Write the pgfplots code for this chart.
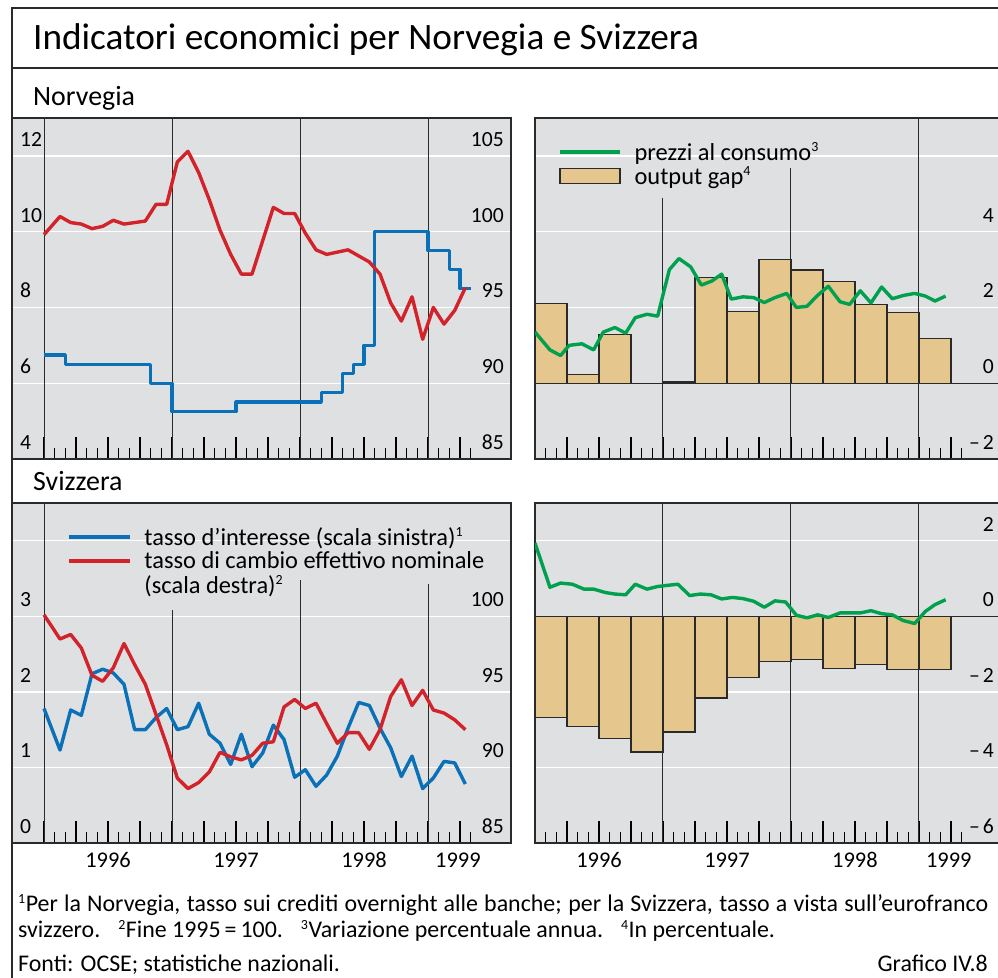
\documentclass[border=0pt]{standalone}
\usepackage{fontspec}
\setmainfont{Carlito}
\usepackage{pgfplots}
\pgfplotsset{compat=1.18}
\definecolor{bgc}{HTML}{DFE0E2}
\definecolor{cred}{HTML}{D2232A}
\definecolor{cblue}{HTML}{0A71B9}
\definecolor{cgreen}{HTML}{00A04E}
\definecolor{ctan}{HTML}{E5C78E}
\definecolor{cframe}{HTML}{2A2A2A}
\newcommand{\fs}[1]{\fontsize{#1}{#1}\selectfont}
\newcommand{\sps}[1]{\textsuperscript{\fontsize{14}{14}\selectfont #1}}
\newcommand{\yl}[3]{\draw[cframe, line width=1bp] (axis cs:#1,#2) -- (axis cs:#1,#3);}
\pgfplotsset{
  base/.style={scale only axis,
    /pgf/number format/assume math mode=true,
    tick label style={font=\fs{21.7}},
    ytick style={draw=none},
  },
  panel/.style={base,
    axis background/.style={fill=bgc},
    axis line style={line width=1.3bp, draw=cframe},
    tick align=inside, xtick pos=left, ytick pos=left,
    xtick={0,3,...,39},
    minor xtick={1,2,4,5,7,8,10,11,13,14,16,17,19,20,22,23,25,26,28,29,31,32,34,35,37,38,40},
    major tick length=22bp, minor tick length=11bp,
    xtick style={line width=1.1bp, black},
    xticklabels={},
    ymajorgrids, grid style={white, line width=1.3bp},
    extra y tick style={grid=none},
  },
  twin/.style={base, axis x line=none, axis y line*=right, y axis line style={draw=none}},
  years/.style={extra x ticks={6,18,30,38.8}, extra x tick labels={1996,1997,1998,1999},
    extra x tick style={major tick length=0pt, xticklabel style={anchor=base, inner sep=0pt, yshift=-25bp, font=\fs{22.5}}}},
  dline/.style={line width=3.4bp, line join=round},
  lblleft/.style={yticklabel style={anchor=base west, inner sep=0pt, xshift=8bp, yshift=9.5bp}},
  lblright/.style={yticklabel style={anchor=base east, inner sep=0pt, xshift=-#1, yshift=9.5bp}},
  leg/.style={legend style={draw=none, fill=none, inner sep=0pt, font=\fs{24.5}, row sep=5bp, column sep=13bp, nodes={inner sep=0pt}}, legend cell align=left},
}
\begin{document}
\begin{tikzpicture}
\draw[cframe, line width=1.2bp] (1005bp,970bp) -- (12bp,970bp) -- (12bp,-5bp);
\draw[cframe, line width=1.2bp] (12bp,910bp) -- (1005bp,910bp);
\node[anchor=base west, inner sep=0] at (33bp,928bp) {\fs{37.4}Indicatori economici per Norvegia e Svizzera};
\node[anchor=base west, inner sep=0] at (33bp,872bp) {\fs{28}Norvegia};
\node[anchor=base west, inner sep=0] at (33bp,487bp) {\fs{28}Svizzera};

% ---------- Norvegia left
\begin{axis}[panel, lblleft, at={(12bp,519bp)}, anchor=south west, width=499bp, height=341bp,
  xmin=-3, xmax=43.78, ymin=4, ymax=13,
  ytick={6,8,10,12}, yticklabels={6,8,10,12}, extra y ticks={4}, extra y tick labels={4}]
\yl{0}{4}{13}\yl{12}{4}{13}\yl{24}{4}{13}\yl{36}{4}{13}
\addplot[cblue, dline, const plot] coordinates {
(0,6.75) (2,6.5) (10,6.0) (12,5.25) (18,5.5) (26,5.75) (28,6.25) (29,6.5) (30,7.0) (31,10.0) (36,9.5) (38,9.0) (39,8.5) (40,8.5)};
\end{axis}
\begin{axis}[twin, lblright=7bp, at={(12bp,519bp)}, anchor=south west, width=499bp, height=341bp,
  xmin=-3, xmax=43.78, ymin=85, ymax=107.5,
  ytick={85,90,95,100,105}, yticklabels={85,90,95,100,105}]
\addplot[cred, dline] coordinates {
(0,99.8) (1.5,101.0) (2.5,100.6) (3.5,100.5) (4.5,100.2) (5.5,100.35) (6.5,100.75) (7.5,100.5) (8.5,100.6) (9.5,100.7)
(10.5,101.8) (11.5,101.8) (12.5,104.6) (13.5,105.3) (14.5,103.9) (15.5,102.1) (16.5,100.1) (17.5,98.5) (18.5,97.2) (19.5,97.2)
(20.5,99.4) (21.5,101.6) (22.5,101.2) (23.5,101.2) (24.5,99.9) (25.5,98.8) (26.5,98.5) (27.5,98.65) (28.5,98.8) (29.5,98.4)
(30.5,98.0) (31.5,97.2) (32.5,95.3) (33.5,94.1) (34.5,95.7) (35.5,92.9) (36.5,95.0) (37.5,93.9) (38.5,94.8) (39.5,96.3)};
\end{axis}

% ---------- Norvegia right
\begin{axis}[panel, lblright=6bp, ytick pos=right, yticklabel pos=right, leg,
  at={(535bp,519bp)}, anchor=south west, width=465bp, height=341bp,
  xmin=0, xmax=43.6, ymin=-2, ymax=7,
  ytick={2,4,6}, yticklabels={2,4,{}}, extra y ticks={-2,0}, extra y tick labels={–\hspace{3bp}2,0},
  legend style={at={(axis description cs:0.0495,0.93)}, anchor=north west}]
\addlegendimage{legend image code/.code={\draw[cgreen, line width=3.4bp] (0bp,0bp) -- (60bp,0bp);}}
\addlegendentry{prezzi al consumo\sps{3}}
\addlegendimage{legend image code/.code={\draw[fill=ctan, draw=cframe, line width=1.2bp] (0bp,-7.5bp) rectangle (60bp,7.5bp);}}
\addlegendentry{output gap\sps{4}}
\yl{12}{-2}{4.89}\yl{24}{-2}{5.68}\yl{36}{-2}{7}
\addplot[forget plot, ybar, bar width=3, bar shift=0pt, fill=ctan, draw=cframe, line width=1.2bp] coordinates {
(1.5,2.10) (4.5,0.23) (7.5,1.28) (13.5,0.03) (16.5,2.79) (19.5,1.90) (22.5,3.27) (25.5,2.99) (28.5,2.68) (31.5,2.08) (34.5,1.87) (37.5,1.19)};
\draw[cframe, line width=1.3bp] (axis cs:0,0) -- (axis cs:44,0);
\addplot[forget plot, cgreen, dline] coordinates {
(0,1.35) (1.4,0.88) (2.4,0.73) (3.2,1.0) (4.4,1.04) (5.5,0.88) (6.4,1.35) (7.5,1.47) (8.5,1.32) (9.4,1.73) (10.5,1.82) (11.5,1.77)
(12.6,3.0) (13.5,3.29) (14.6,3.07) (15.6,2.59) (16.6,2.70) (17.5,2.88) (18.4,2.22) (19.5,2.28) (20.5,2.26) (21.5,2.13) (22.5,2.26) (23.6,2.37)
(24.5,2.0) (25.5,2.03) (26.5,2.32) (27.5,2.56) (28.6,2.15) (29.5,2.08) (30.5,2.44) (31.5,2.12) (32.5,2.54) (33.5,2.23) (34.6,2.32) (35.6,2.37)
(36.6,2.30) (37.5,2.17) (38.5,2.30)};
\end{axis}

% ---------- Svizzera left
\begin{axis}[panel, years, lblleft, at={(12bp,135bp)}, anchor=south west, width=499bp, height=340bp,
  xmin=-3, xmax=43.78, ymin=0, ymax=4.5,
  ytick={1,2,3,4}, yticklabels={1,2,3,{}}, extra y ticks={0}, extra y tick labels={0}]
\yl{0}{0}{4.5}\yl{12}{0}{3.085}\yl{24}{0}{3.48}\yl{36}{0}{3.43}
\addplot[cblue, dline] coordinates {
(0,1.78) (1.5,1.23) (2.5,1.76) (3.5,1.69) (4.5,2.24) (5.5,2.30) (6.5,2.25) (7.5,2.10) (8.5,1.50) (9.5,1.50)
(10.5,1.66) (11.5,1.78) (12.5,1.50) (13.5,1.54) (14.5,1.85) (15.5,1.44) (16.5,1.32) (17.5,1.04) (18.5,1.44) (19.5,1.01)
(20.5,1.19) (21.5,1.56) (22.5,1.37) (23.5,0.87) (24.5,0.97) (25.5,0.75) (26.5,0.90) (27.5,1.15) (28.5,1.52) (29.5,1.86)
(30.5,1.82) (31.5,1.52) (32.5,1.26) (33.5,0.88) (34.5,1.15) (35.5,0.72) (36.5,0.86) (37.5,1.08) (38.5,1.06) (39.5,0.78)};
\end{axis}
\begin{axis}[twin, lblright=7bp, leg, at={(12bp,135bp)}, anchor=south west, width=499bp, height=340bp,
  xmin=-3, xmax=43.78, ymin=85, ymax=107.5,
  ytick={85,90,95,100}, yticklabels={85,90,95,100},
  legend style={at={(axis description cs:0.110,0.929)}, anchor=north west}]
\addlegendimage{legend image code/.code={\draw[cblue, line width=3.4bp] (0bp,0bp) -- (61bp,0bp);}}
\addlegendentry{tasso d’interesse (scala sinistra)\sps{1}}
\addlegendimage{legend image code/.code={\draw[cred, line width=3.4bp] (0bp,0bp) -- (61bp,0bp);}}
\addlegendentry{tasso di cambio effettivo nominale}
\addlegendimage{empty legend}
\addlegendentry{(scala destra)\sps{2}}
\addplot[forget plot, cred, dline] coordinates {
(0,100.1) (1.5,98.5) (2.5,98.8) (3.5,97.9) (4.5,96.1) (5.5,95.7) (6.5,96.6) (7.5,98.2) (8.5,96.8) (9.5,95.5)
(10.5,93.5) (11.5,91.5) (12.5,89.3) (13.5,88.6) (14.5,89.0) (15.5,89.7) (16.5,91.0) (17.5,90.7) (18.5,90.5) (19.5,90.8)
(20.5,91.6) (21.5,91.7) (22.5,94.0) (23.5,94.5) (24.5,93.9) (25.5,94.25) (26.5,92.9) (27.5,91.6) (28.5,92.3) (29.5,92.3)
(30.5,91.2) (31.5,92.5) (32.5,94.7) (33.5,95.8) (34.5,94.1) (35.5,95.1) (36.5,93.8) (37.5,93.6) (38.5,93.15) (39.5,92.5)};
\end{axis}

% ---------- Svizzera right
\begin{axis}[panel, years, lblright=6bp, ytick pos=right, yticklabel pos=right,
  at={(535bp,135bp)}, anchor=south west, width=465bp, height=340bp,
  xmin=0, xmax=43.6, ymin=-6, ymax=3,
  ytick={-4,-2,2}, yticklabels={–\hspace{3bp}4,–\hspace{3bp}2,2}, extra y ticks={-6,0}, extra y tick labels={–\hspace{3bp}6,0}]
\yl{12}{-6}{3}\yl{24}{-6}{3}\yl{36}{-6}{3}
\addplot[ybar, bar width=3, bar shift=0pt, fill=ctan, draw=cframe, line width=1.2bp] coordinates {
(1.5,-2.67) (4.5,-2.91) (7.5,-3.23) (10.5,-3.59) (13.5,-3.06) (16.5,-2.16) (19.5,-1.61) (22.5,-1.19) (25.5,-1.15) (28.5,-1.38) (31.5,-1.28) (34.5,-1.41) (37.5,-1.41)};
\draw[cframe, line width=1.3bp] (axis cs:0,0) -- (axis cs:44,0);
\addplot[cgreen, dline] coordinates {
(0,1.94) (1.4,0.77) (2.4,0.88) (3.5,0.85) (4.6,0.72) (5.5,0.72) (6.6,0.63) (7.5,0.59) (8.5,0.57) (9.4,0.85) (10.5,0.72) (11.5,0.79)
(12.4,0.82) (13.4,0.85) (14.5,0.55) (15.5,0.59) (16.5,0.57) (17.5,0.46) (18.5,0.50) (19.5,0.47) (20.5,0.40) (21.5,0.24) (22.5,0.41) (23.5,0.38)
(24.5,0.03) (25.5,-0.04) (26.5,0.04) (27.5,-0.03) (28.6,0.09) (29.5,0.09) (30.5,0.09) (31.5,0.15) (32.5,0.07) (33.5,0.04) (34.5,-0.11) (35.6,-0.19)
(36.6,0.13) (37.5,0.31) (38.5,0.44)};
\end{axis}

\node[anchor=base west, inner sep=0] at (18bp,66bp) {\fs{24}\makebox[970bp][s]{\sps{1}Per la Norvegia, tasso sui crediti overnight alle banche; per la Svizzera, tasso a vista sull’eurofranco}};
\node[anchor=base west, inner sep=0] at (18bp,40bp) {\fs{24}svizzero.\hspace{18bp}\sps{2}Fine 1995\,=\,100.\hspace{18bp}\sps{3}Variazione percentuale annua.\hspace{18bp}\sps{4}In percentuale.};
\node[anchor=base west, inner sep=0] at (18bp,7bp) {\fs{24}Fonti: OCSE; statistiche nazionali.};
\node[anchor=base east, inner sep=0] at (988bp,7bp) {\fs{24}Grafico IV.8};
\pgfresetboundingbox
\useasboundingbox (0bp,0bp) rectangle (998bp,978bp);
\end{tikzpicture}
\end{document}
